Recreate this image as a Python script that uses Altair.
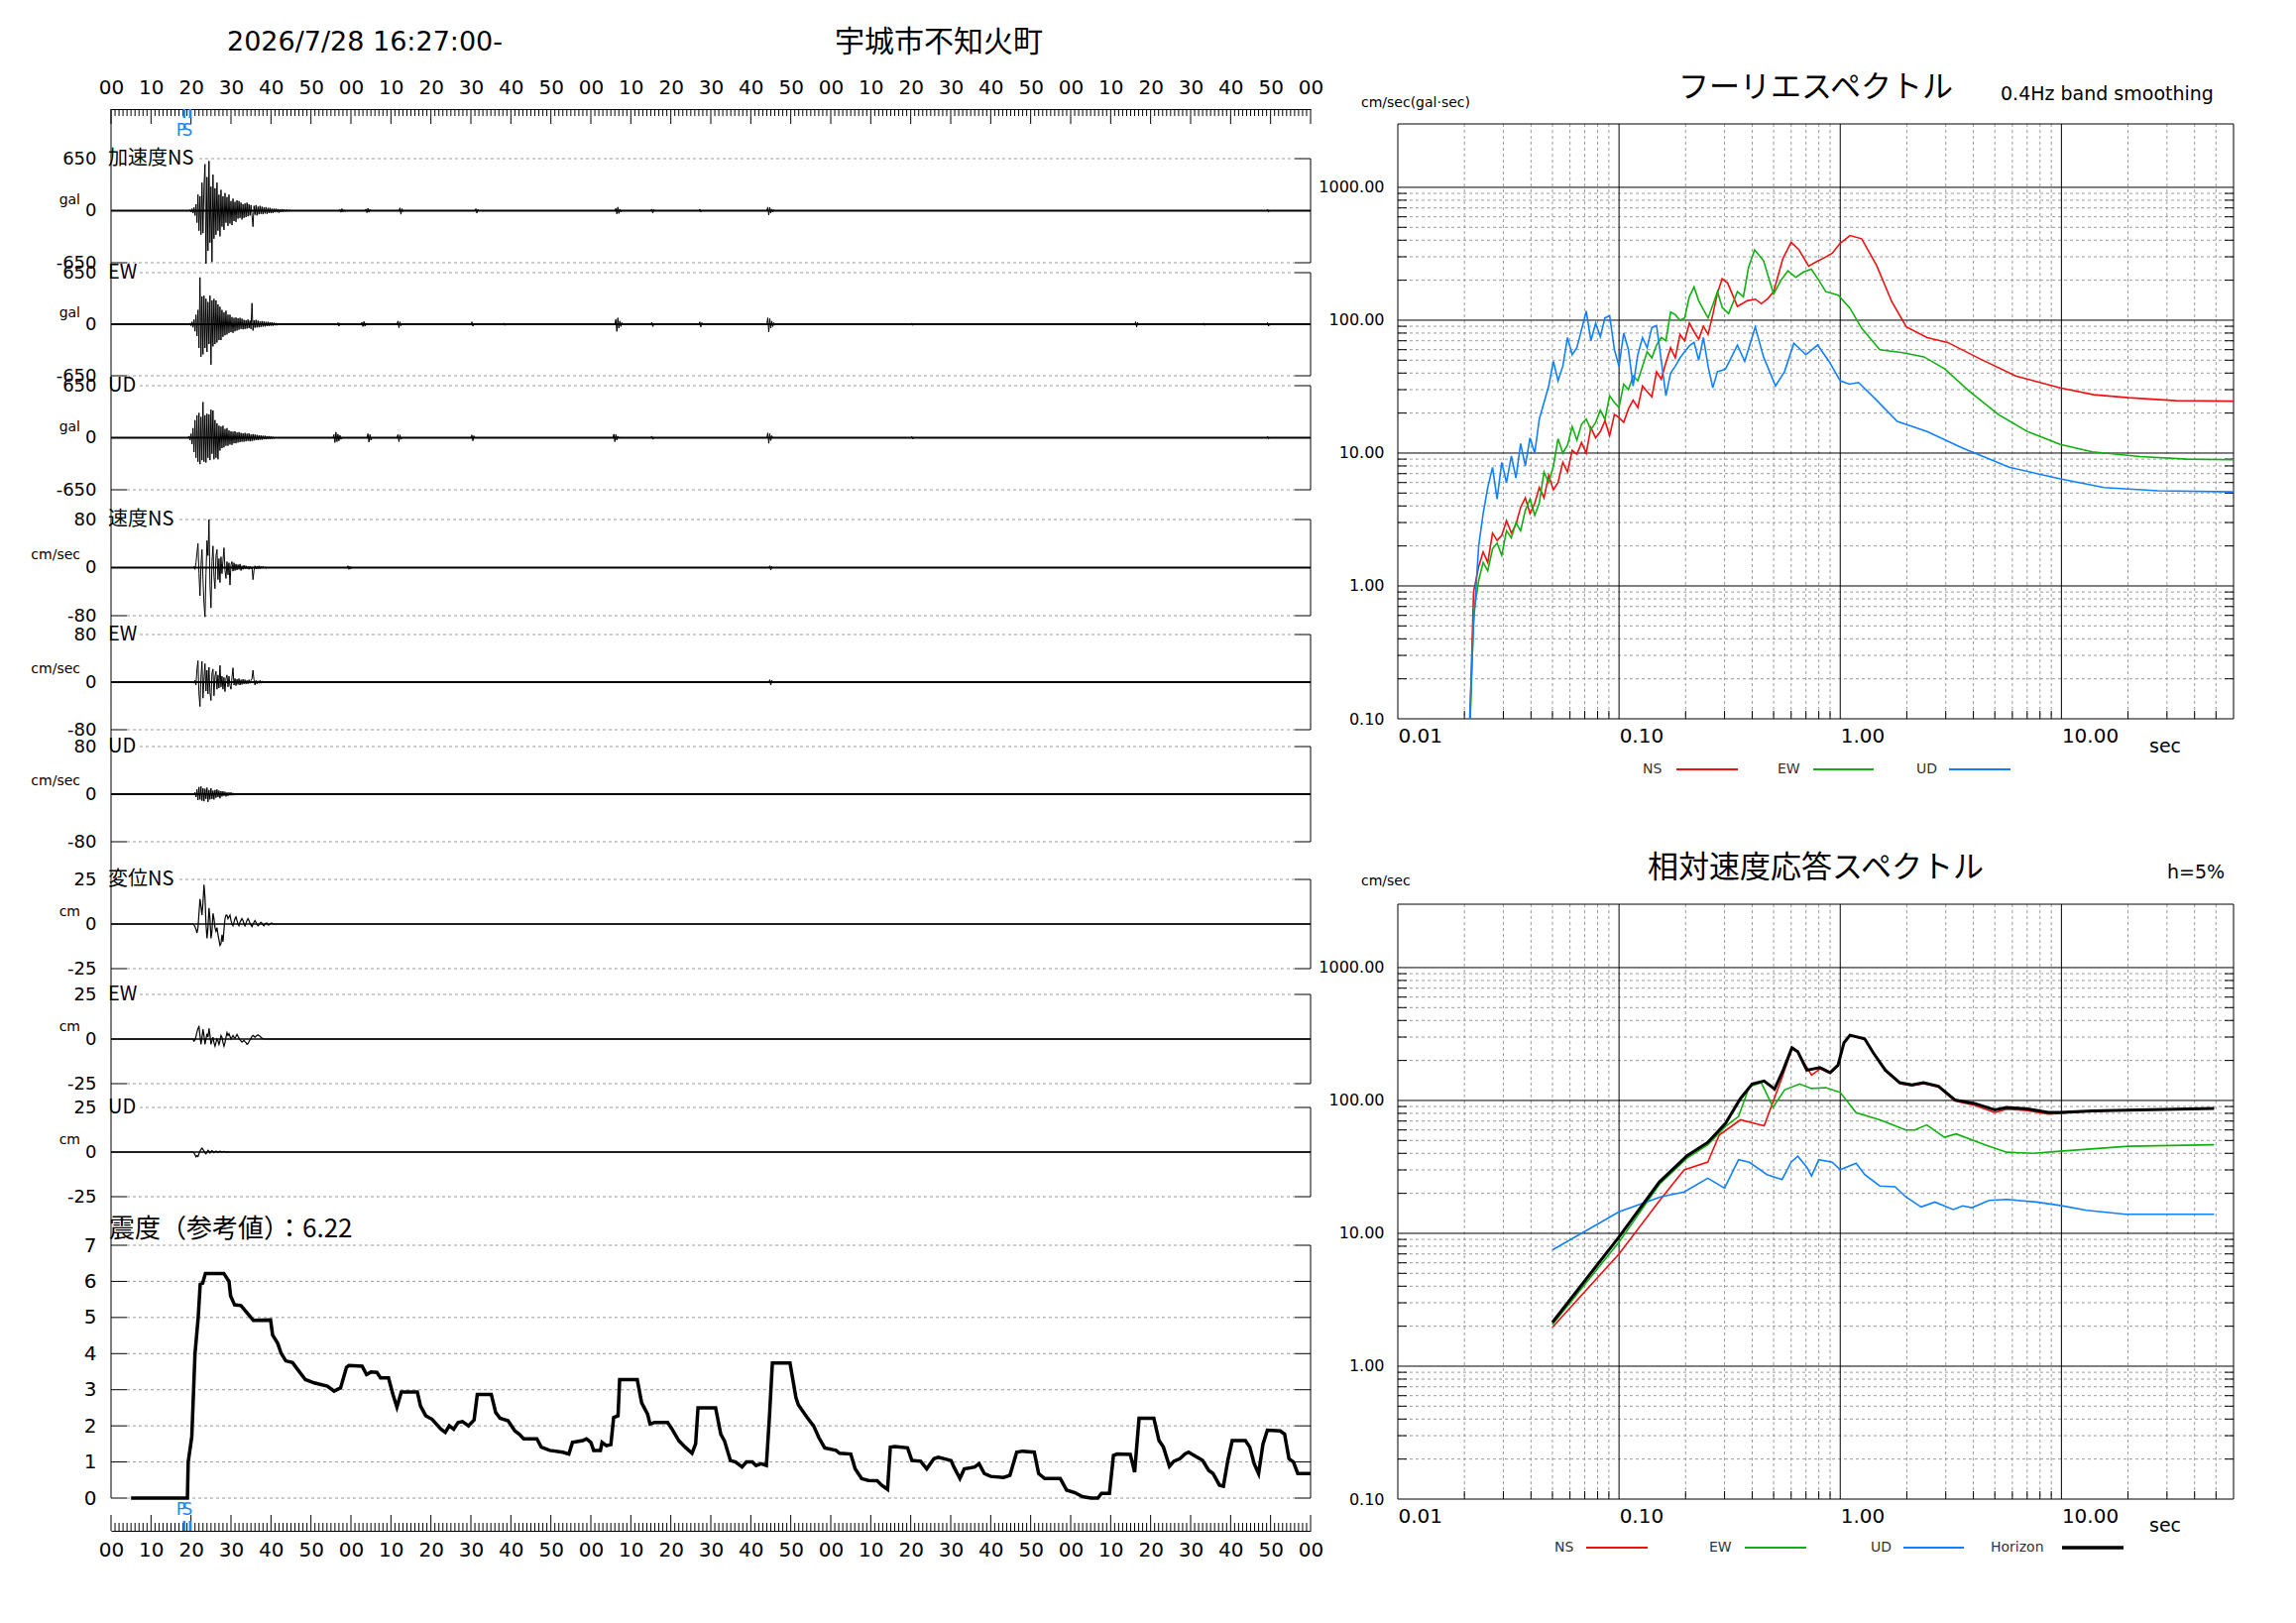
import altair as alt
import pandas as pd

FONT = "DejaVu Sans"
JFONT = "Noto Sans CJK JP"
BLUE_PS = "#1e88ff"

# ---------------- texts ----------------
DATE_TEXT = "2026/7/28 16:27:00-"
STATION = "宇城市不知火町"
FOURIER_TITLE = "フーリエスペクトル"
FOURIER_NOTE = "0.4Hz band smoothing"
FOURIER_UNIT = "cm/sec(gal·sec)"
RESP_TITLE = "相対速度応答スペクトル"
RESP_NOTE = "h=5%"
RESP_UNIT = "cm/sec"
PERIOD_UNIT = "sec"
INTENSITY_TITLE = "震度（参考値）：6.22"
PANEL_LABELS = ["加速度NS", "EW", "UD", "速度NS", "EW", "UD", "変位NS", "EW", "UD"]
PANEL_UNITS = ["gal", "gal", "gal", "cm/sec", "cm/sec", "cm/sec", "cm", "cm", "cm"]
PANEL_MAX = [650, 650, 650, 80, 80, 80, 25, 25, 25]
TIME_TICKS = list(range(0, 301, 10))
PS_TIMES = [18.3, 19.8]
PS_LABELS = ["P", "S"]
LEVELS = [0, 1, 2, 3, 4, 5, 6, 7]
FOURIER_COMPS = ["NS", "EW", "UD"]
RESP_COMPS = ["NS", "EW", "UD", "Horizon"]
STEP = 0.25

# ---------------- waveforms (bursts: start time, samples every 0.25 s) ----------------
ACC_NS = [
    (19.5, [0, 10, -15, 25, -30, 40, -60, 80,
            -150, 200, -250, 180, -300, 350, -280, 300,
            580, -660, 420, -500, 620, -400, 300, -640,
            450, -350, 280, -300, 350, -250, 200, -320,
            260, -200, 180, -240, 220, -150, 170, -190,
            200, -160, 120, -180, 150, -130, 110, -140,
            130, -100, 120, -90, 100, -110, 80, -90,
            90, -80, 100, -70, 80, -60, 70, -60,
            -200, 60, -50, 70, -60, 50, -45, 60,
            -40, 50, -45, 40, -35, 45, -40, 35,
            -30, 35, -30, 25, -30, 25, -20, 25,
            -20, 20, -25, 15, -15, 20, -15, 15,
            -10, 12, -10, 10, -8, 8, 0, 0]),
    (57.0, [0, 15, -20, 25, -15, 10, -12, 0]),
    (63.5, [0, 20, -25, 30, -20, 15, 0]),
    (72.0, [0, 35, -45, 25, -10, 0]),
    (91.0, [0, 25, -30, 15, 0]),
    (126.0, [0, 30, -40, 45, -35, 20, -15, 0]),
    (135.0, [0, 20, -30, 15, 0]),
    (147.0, [0, 20, -15, 0]),
    (164.0, [0, 45, -55, 40, -30, 20, -15, 10, 0]),
    (289.0, [0, 15, -15, 0]),
]
ACC_EW = [
    (19.5, [0, 15, -20, 30, -40, 60, -90, 120,
            -150, 180, -300, 590, -410, 350, -380, 360,
            -300, 320, -350, 280, -250, 360, -510, 300,
            -280, 320, -250, 300, -230, 250, -200, 220,
            -200, 180, -160, 150, -140, 170, -130, 120,
            -110, 120, -100, 90, -110, 80, -90, 85,
            -80, 75, -70, 80, -60, 70, -65, 55,
            -60, 50, -55, 60, -50, 45, -60, 265,
            -80, 50, -45, 55, -40, 45, -40, 35,
            -35, 40, -30, 35, -30, 30, -25, 30,
            -25, 25, -20, 25, -20, 20, -15, 15,
            -15, 12, -12, 10, -10, 8, 0, 0]),
    (56.5, [0, 20, -25, 15, 0]),
    (62.5, [0, 25, -30, 35, -25, 15, 0]),
    (71.5, [0, 40, -45, 30, -20, 0]),
    (90.0, [0, 30, -25, 0]),
    (98.0, [0, 15, -15, 0]),
    (126.0, [0, 60, -90, 80, -50, 40, -30, 20, 0]),
    (135.0, [0, 25, -30, 0]),
    (147.0, [0, 30, -35, 20, 0]),
    (164.0, [0, 80, -100, 70, -50, 40, -30, 20, -10, 0]),
    (200.0, [0, 15, -15, 0]),
    (256.0, [0, 30, -35, 20, 0]),
    (273.0, [0, 15, -15, 0]),
    (289.0, [0, 20, -25, 0]),
]
ACC_UD = [
    (19.25, [0, 20, -30, 50, -80, 120, -180, 220,
             -250, 280, -300, 310, -330, 260, -280, 445,
             -300, 280, -310, 300, -250, 290, -280, 350,
             -200, 340, -270, 220, -250, 180, -270, 150,
             -160, 140, -130, 150, -120, 110, -100, 120,
             -100, 90, -85, 80, -90, 75, -70, 80,
             -70, 65, -60, 70, -55, 60, -50, 55,
             -50, 60, -45, 50, -40, 55, -45, 40,
             -40, 45, -35, 40, -30, 35, -30, 30,
             -25, 30, -25, 25, -20, 25, -20, 20,
             -15, 20, -15, 15, -12, 10, -8, 0]),
    (55.5, [0, 40, -60, 70, -50, 45, -40, 30, -20, 0]),
    (64.0, [0, 50, -55, 40, -30, 0]),
    (71.5, [0, 40, -50, 35, -20, 0]),
    (90.0, [0, 35, -40, 25, 0]),
    (125.5, [0, 45, -50, 40, -30, 20, 0]),
    (135.0, [0, 20, -20, 0]),
    (164.0, [0, 60, -70, 50, -35, 25, 0]),
    (200.0, [0, 15, -15, 0]),
    (289.0, [0, 15, -12, 0]),
]
VEL_NS = [
    (20.5, [0, 2, -3, 8, 25, 40, -10, -47, 5, 30, -20, -60, -82, -10, 45, 20, 80, -30, -67, 10,
            36, -15, -35, 20, 30, -20, 15, -25, 18, -10, 12, 33, -5, -18, 10, -12, 8, -29, 5, 10,
            -6, 8, -5, 6, -4, 5, -3, 6, -5, 3, -3, 4, -2, 3, -2, 2, -3, 2, -2, 1,
            -20, -5, 3, -2, 2, -2, 3, -2, 2, -1, 2, -1, 1, -1, 0]),
    (59.0, [0, 3, -3, 2, -2, 0]),
    (164.5, [0, 3, -4, 2, 0]),
]
VEL_EW = [
    (20.5, [0, -2, 3, -5, 22, 36, -20, -41, 10, 35, -27, 5, 31, -15, 20, -20, 25, -18, -31, 15,
            22, -23, 10, 18, -12, 12, -10, 28, -8, 10, -12, 8, -16, 6, 12, -8, 10, -6, -12, 8,
            24, -5, 6, -6, 5, -4, 6, -5, 4, -4, 5, -3, 4, -3, 3, -3, 4, -2, 3, 6,
            20, 4, -5, 3, -3, 2, -2, 3, -2, 2, -1, 1, 0]),
    (164.5, [0, 4, -5, 3, 0]),
]
VEL_UD = [
    (20.75, [0, 3, -5, 8, -10, 12, -9, 13, -11, 10, -12, 9, -8, 11, -13, 7, -9, 10, -8, 6,
             -9, 7, -6, 8, -5, 6, -7, 5, -4, 5, -3, 4, -4, 3, -3, 3, -2, 3, -2, 2, -2, 1, -1, 0]),
]
DISP_NS = [
    (20.5, [0, -0.5, -1.5, -3, -5, -2, 6, 14, 10, 5, 12, 22, 15, 0, -8, -2, 9, 3, -8, -4,
            6, 3, -2, -4, -2, -6, -9, -12, -11, -6, -10, -3, 3, 5, 5, 3, 4, 5, 2, 0,
            -1, 1, 3, 4, 2, 0, -1, 1, 2, 3, 2, 0, -1, 0.5, 2, 3, 2, 0.5, -0.5, -1.5,
            0, 1, 2, 1, 0, -1, -0.5, 0.5, 1, 0.5, -0.5, -1, 0, 0.5, 0.5, -0.5, -0.5, 0, 0.5, 0.5, 0]),
]
DISP_EW = [
    (20.5, [0, -1.2, -0.5, 1.5, 4, 6, 7, 2, -3, 1, 5.5, 2, -3, 0, 3, 1, 6, 2, -3, -1,
            1, -2, -4, -2, 0, -1, -3, -1, 2, 1, -2, -4, -2, 1, 3.6, 2, 3, 1.5, 0, 1,
            2, 1, 0.5, 1.5, 2.6, 1.5, 0.5, -0.5, -1, -1.7, -1.2, -0.8, -1.5, -2, -3, -2.5, -1.5, -0.5, 0.5, 1.5,
            2, 1.5, 1, 1.5, 2, 2.4, 2, 1.5, 1, 0.5, 0.3, 0]),
]
DISP_UD = [
    (20.5, [0, -0.5, -1.5, -2.7, -2.0, -2.5, -1.0, 0.5, 1.5, 2.2, 1.5, 0.5, -0.5, -1.0, 0, 1.0, 0.5, -0.5, 0.3, 0.8,
            0.3, -0.3, 0.2, 0.6, 0.2, -0.2, 0.3, 0.5, 0.2, 0, 0.3, 0.4, 0.1, -0.2, 0, 0.2, 0]),
]
WAVES = [ACC_NS, ACC_EW, ACC_UD, VEL_NS, VEL_EW, VEL_UD, DISP_NS, DISP_EW, DISP_UD]

# ---------------- seismic intensity ----------------
INT_T = [5.0, 19.1, 19.3, 20.2, 21.0, 21.8, 22.3, 22.9, 23.6, 28.2,
         29.5, 29.9, 30.9, 32.5, 35.0, 35.6, 39.9, 40.4, 41.7, 42.5,
         43.7, 45.4, 46.4, 48.6, 50.8, 54.1, 55.8, 57.4, 58.9, 59.5,
         62.8, 63.9, 65.0, 66.5, 67.4, 69.4, 70.5, 71.5, 72.6, 76.6,
         77.4, 78.7, 80.3, 82.5, 83.6, 84.6, 85.7, 86.8, 87.9, 89.4,
         90.8, 91.6, 95.1, 96.2, 97.3, 99.3, 101.0, 102.1, 103.2, 106.5,
         107.6, 109.7, 113.0, 114.5, 115.4, 118.0, 118.9, 120.0, 120.7, 122.4,
         122.8, 123.9, 125.0, 125.7, 126.8, 127.2, 131.6, 132.7, 134.2, 134.8,
         135.9, 139.2, 140.3, 142.0, 143.6, 145.3, 146.2, 146.8, 151.2, 152.5,
         153.4, 154.9, 156.2, 157.8, 158.9, 160.4, 161.3, 162.6, 163.9, 164.7,
         165.4, 169.8, 171.3, 171.9, 174.1, 175.7, 177.0, 178.5, 181.3, 182.2,
         185.0, 186.1, 187.7, 189.4, 191.6, 192.7, 194.2, 194.9, 196.0, 199.2,
         200.3, 202.5, 204.0, 205.8, 206.9, 210.1, 210.8, 212.3, 213.4, 216.0,
         217.1, 218.4, 220.0, 223.2, 224.8, 226.5, 228.0, 230.9, 232.0, 233.5,
         237.4, 239.0, 241.1, 242.9, 245.1, 246.8, 247.7, 249.7, 250.7, 251.6,
         254.9, 256.0, 257.1, 260.8, 262.1, 263.2, 264.7, 265.8, 267.3, 268.6,
         269.5, 271.3, 273.0, 274.5, 275.6, 277.2, 278.2, 279.3, 280.4, 283.7,
         284.8, 285.9, 287.0, 288.1, 289.2, 292.4, 293.5, 294.6, 295.7, 296.8,
         300.0]
INT_V = [0, 0, 1.0, 1.7, 4.0, 5.0, 5.92, 5.95, 6.22, 6.22,
         6.0, 5.6, 5.35, 5.33, 5.0, 4.92, 4.93, 4.52, 4.28, 4.02,
         3.8, 3.75, 3.6, 3.28, 3.19, 3.1, 2.96, 3.05, 3.62, 3.67,
         3.65, 3.42, 3.49, 3.48, 3.33, 3.33, 2.87, 2.52, 2.94, 2.94,
         2.55, 2.28, 2.18, 1.91, 1.82, 2.0, 1.91, 2.09, 2.12, 2.0,
         2.16, 2.87, 2.87, 2.37, 2.21, 2.14, 1.86, 1.77, 1.64, 1.64,
         1.41, 1.32, 1.27, 1.22, 1.54, 1.59, 1.64, 1.54, 1.32, 1.32,
         1.54, 1.45, 1.48, 2.23, 2.28, 3.28, 3.28, 2.64, 2.32, 2.05,
         2.09, 2.09, 1.91, 1.59, 1.41, 1.24, 1.5, 2.5, 2.5, 1.77,
         1.59, 1.04, 1.0, 0.86, 1.0, 1.0, 0.9, 0.95, 0.9, 2.32,
         3.74, 3.74, 2.78, 2.58, 2.23, 2.0, 1.68, 1.39, 1.32, 1.24,
         1.22, 0.81, 0.54, 0.49, 0.48, 0.36, 0.24, 1.41, 1.43, 1.39,
         1.04, 1.02, 0.81, 1.09, 1.13, 1.04, 0.86, 0.54, 0.81, 0.86,
         0.95, 0.68, 0.6, 0.57, 0.63, 1.27, 1.3, 1.27, 0.68, 0.54,
         0.54, 0.22, 0.15, 0.04, 0.0, 0.0, 0.13, 0.13, 1.18, 1.22,
         1.21, 0.72, 2.21, 2.21, 1.59, 1.41, 0.88, 1.02, 1.09, 1.22,
         1.27, 1.15, 1.04, 0.77, 0.68, 0.36, 0.33, 1.04, 1.59, 1.59,
         1.41, 0.95, 0.68, 1.5, 1.88, 1.86, 1.77, 1.09, 1.0, 0.68,
         0.68]

# ---------------- Fourier spectrum ----------------
FT_GRID = [0.0210, 0.0220, 0.0232, 0.0243, 0.0255, 0.0268, 0.0281, 0.0295, 0.0310, 0.0326,
           0.0342, 0.0359, 0.0377, 0.0396, 0.0416, 0.0436, 0.0458, 0.0481, 0.0505, 0.0530,
           0.0557, 0.0585, 0.0614, 0.0645, 0.0677, 0.0711, 0.0746, 0.0784, 0.0823, 0.0864,
           0.0907, 0.0953, 0.1000, 0.1050, 0.1103, 0.1158, 0.1216, 0.1277, 0.1340, 0.1407,
           0.1478, 0.1552, 0.1629, 0.1711, 0.1796, 0.1886, 0.1980, 0.2079, 0.2183, 0.2292,
           0.2407, 0.2527, 0.2654, 0.2786, 0.2926]
FS_NS_GRID = [0.06, 0.9, 1.4, 1.8, 1.5, 2.5, 2.2, 2.4, 3.1, 2.5,
              2.9, 3.9, 4.6, 3.5, 4.2, 5.5, 4.6, 6.8, 5.3, 6.0,
              8.5, 7.2, 10.5, 9.8, 12.0, 10.0, 15.5, 13.0, 14.5, 17.5,
              13.5, 19.5, 18.5, 17.0, 21.5, 25.0, 22.0, 32.0, 29.0, 26.5,
              41.0, 36.0, 48.0, 62.0, 52.0, 78.0, 70.0, 95.0, 82.0, 72.0,
              90.0, 78.0, 110.0, 160.0, 205.0]
FS_EW_GRID = [0.05, 0.6, 1.1, 1.5, 1.3, 1.9, 2.1, 1.7, 2.6, 2.3,
              3.0, 2.6, 3.7, 4.5, 3.4, 4.2, 7.2, 6.0, 8.0, 12.8,
              10.0, 11.5, 15.8, 12.5, 16.5, 18.0, 15.0, 17.0, 21.0, 18.0,
              27.0, 24.0, 22.0, 33.0, 30.0, 38.0, 35.0, 45.0, 58.0, 52.0,
              65.0, 74.0, 70.0, 115.0, 110.0, 100.0, 104.0, 150.0, 178.0, 140.0,
              120.0, 104.0, 130.0, 164.0, 125.0]
FS_UD_GRID = [0.08, 0.5, 2.0, 3.5, 5.5, 7.8, 4.5, 8.5, 6.0, 9.5,
              6.5, 11.8, 8.0, 13.0, 10.0, 18.0, 24.0, 32.0, 49.0, 35.0,
              45.0, 74.0, 55.0, 62.0, 85.0, 117.0, 70.0, 95.0, 75.0, 104.0,
              108.0, 60.0, 45.0, 80.0, 60.0, 32.0, 55.0, 74.0, 62.0, 88.0,
              91.0, 50.0, 27.0, 40.0, 45.0, 52.0, 58.0, 64.0, 68.0, 50.0,
              74.0, 45.0, 31.0, 41.0, 42.0]
FS_NS_T = [0.31, 0.343, 0.38, 0.413, 0.44, 0.47, 0.50, 0.55, 0.60, 0.65,
           0.72, 0.78, 0.84, 0.92, 1.0, 1.107, 1.25, 1.46, 1.71, 1.99,
           2.47, 3.06, 4.30, 6.22, 9.88, 14.0, 20.1, 32.9, 60.0]
FS_NS_A = [190, 127, 140, 144, 133, 145, 164, 290, 386, 340,
           255, 275, 293, 319, 380, 434, 410, 259, 138, 89,
           74, 68, 51, 38, 30.9, 27.5, 26.1, 24.8, 24.6]
FS_EW_T = [0.313, 0.343, 0.365, 0.385, 0.41, 0.45, 0.50, 0.54, 0.58, 0.63,
           0.68, 0.74, 0.80, 0.86, 0.98, 1.107, 1.25, 1.51, 1.92, 2.39,
           2.97, 3.80, 5.19, 7.03, 9.88, 13.8, 22.6, 37.2, 60.0]
FS_EW_A = [112, 164, 150, 250, 338, 281, 157, 200, 235, 210,
           230, 242, 200, 164, 154, 123, 87, 60, 57, 53,
           43, 29.6, 19.5, 14.5, 11.6, 10.2, 9.4, 9.0, 8.9]
FS_UD_T = [0.303, 0.343, 0.37, 0.413, 0.45, 0.51, 0.56, 0.617, 0.70, 0.79,
           0.89, 1.0, 1.1, 1.21, 1.46, 1.81, 2.47, 3.58, 5.85, 9.88,
           15.6, 27.3, 60.0]
FS_UD_A = [43, 65, 49, 89, 53, 32, 41, 67, 55, 65,
           49, 35, 33, 34, 25, 17.3, 14.5, 10.9, 7.8, 6.4,
           5.5, 5.2, 5.1]

# ---------------- velocity response spectrum ----------------
RS_H_T = [0.05, 0.10, 0.152, 0.203, 0.252, 0.303, 0.354, 0.40, 0.453, 0.505,
          0.552, 0.605, 0.643, 0.706, 0.81, 0.90, 0.977, 1.04, 1.107, 1.29,
          1.41, 1.60, 1.86, 2.11, 2.38, 2.78, 3.30, 4.04, 5.0, 5.66,
          7.03, 8.72, 9.88, 13.8, 22.6, 49.0]
RS_H_A = [2.14, 9.4, 24.3, 38.4, 48.4, 67.3, 103.5, 133, 140, 122,
          169, 249, 233, 169, 177, 162, 184, 272, 310, 291,
          229, 169, 136, 131, 136, 128, 101, 95, 85, 88.7,
          86.4, 81.3, 81.3, 83.4, 85, 87]
RS_NS_T = [0.05, 0.10, 0.154, 0.197, 0.252, 0.284, 0.354, 0.453, 0.546, 0.605,
           0.643, 0.742, 0.81, 0.90, 0.977, 1.04, 1.107, 1.29, 1.41, 1.60,
           1.86, 2.11, 2.38, 2.78, 3.30, 4.04, 5.0, 5.66, 7.03, 8.72,
           9.88, 13.8, 22.6, 49.0]
RS_NS_A = [1.96, 7.0, 18, 30, 34.4, 55, 71.5, 64.5, 149, 245,
           230, 155, 173, 160, 182, 270, 308, 289, 227, 167,
           134, 129, 134, 126, 99, 92, 81, 86, 84, 79,
           80, 83, 85, 87]
RS_EW_T = [0.05, 0.10, 0.152, 0.203, 0.252, 0.303, 0.347, 0.388, 0.44, 0.497,
           0.56, 0.655, 0.742, 0.86, 1.0, 1.18, 1.51, 1.98, 2.17, 2.46,
           2.96, 3.34, 4.52, 5.66, 7.48, 9.88, 20.1, 49.0]
RS_EW_A = [2.06, 8.6, 23.3, 36.8, 46.4, 63.8, 75.8, 127, 136, 88.7,
           120, 133, 123, 125, 115, 81, 71.5, 60, 60, 65.5,
           52.8, 56, 46.4, 40.8, 40, 41.5, 45.2, 46.4]
RS_UD_T = [0.05, 0.10, 0.154, 0.197, 0.252, 0.30, 0.347, 0.388, 0.466, 0.546,
           0.60, 0.643, 0.706, 0.742, 0.80, 0.92, 1.0, 1.18, 1.29, 1.51,
           1.77, 1.98, 2.32, 2.68, 3.24, 3.58, 3.94, 4.71, 5.66, 7.70,
           9.88, 13.0, 19.5, 49.0]
RS_UD_A = [7.5, 14.5, 18.8, 20.5, 26, 21.9, 35.8, 34.3, 27.7, 25.4,
           34.3, 38, 31.5, 27, 35.8, 34.3, 30.1, 33.7, 27.7, 22.7,
           22.4, 18.8, 15.8, 17.2, 15.1, 16.1, 15.6, 17.7, 18, 17.2,
           16.2, 14.9, 13.9, 13.9]

LOG_X_LABELS = [0.01, 0.1, 1, 10]
LOG_Y_LABELS = [0.1, 1, 10, 100, 1000]
MAJOR_X = [0.1, 1, 10]
MAJOR_Y = [1, 10, 100, 1000]
MINOR_X = [round(m * d, 4) for d in (0.01, 0.1, 1, 10) for m in range(2, 10) if m * d < 60]
MINOR_Y = [round(m * d, 4) for d in (0.1, 1, 10, 100) for m in range(2, 10)]

# ---------------- layout / styles ----------------
W = 1210
SLOT = [115, 114, 135, 116, 113, 134, 116, 114, 139]
REGION = [105, 104, 105, 97, 96, 96, 90, 90, 90]
ZERO_W = [2.2, 2.2, 2.2, 2.0, 2.0, 2.0, 1.3, 1.3, 1.3]
LINE_W = [1, 1, 1, 1, 1, 1, 1.2, 1.2, 1.2]
UNIT_DY = [-11, -11, -11, -13, -13, -13, -12, -12, -12]
RW = 843
RH = 600
C_RED, C_GREEN, C_BLUE = "#f01010", "#10b010", "#1080ff"
GRAY = "#9a9a9a"
ANCHOR_TOP = -102      # invisible layout anchors (pixels relative to column origin)
LEFT_ANCHOR_L = -104
LEFT_ANCHOR_R = W + 14
RIGHT_ANCHOR_L = -84

ONE = pd.DataFrame({"k": [0]})
XT = alt.Scale(domain=[0, 300], nice=False, zero=False)
LABEL_EXPR = "(datum.value % 60 < 10 ? '0' : '') + (datum.value % 60)"
NUM_EXPR = "'' + datum.value"


def burst_df(bursts):
    rows = [(0.0, 0.0)]
    for t0, vals in bursts:
        for i, v in enumerate(vals):
            rows.append((round(t0 + i * STEP, 3), v))
    rows.append((300.0, 0.0))
    return pd.DataFrame(rows, columns=["t", "v"])


def label_w(s):
    return 4 + sum(20 if ord(c) > 0x2E80 else 12.5 for c in s)


def txt(text, x, y, size, font=FONT, align="left", color="black", baseline="middle"):
    return alt.Chart(ONE).mark_text(text=text, align=align, baseline=baseline, fontSize=size,
                                    font=font, color=color).encode(x=alt.value(x), y=alt.value(y))


def anchor(x):
    return alt.Chart(ONE).mark_rule(strokeOpacity=0, strokeWidth=1).encode(
        x=alt.value(x), y=alt.value(ANCHOR_TOP), y2=alt.value(ANCHOR_TOP + 1))


def wave_panel(i):
    M, S, R = PANEL_MAX[i], SLOT[i], REGION[i]
    lo = M - 2 * M * S / R
    ys = alt.Scale(domain=[lo, M], nice=False, zero=False)
    ya = alt.Axis(values=[-M, 0, M], labelExpr=NUM_EXPR, labelPadding=15, labelFontSize=18, title=None,
                  labelFlush=False, labelOverlap=False, labelBound=False,
                  ticks=False, domain=False, grid=False)

    def xd(v):
        return alt.XDatum(v, scale=XT, axis=None)

    def yd(v):
        return alt.YDatum(v, scale=ys, axis=ya)

    label = PANEL_LABELS[i]
    df = burst_df(WAVES[i])
    layers = [
        alt.Chart(ONE).mark_rule(color=GRAY, strokeDash=[3, 3]).encode(
            x=alt.value(label_w(label)), x2=alt.value(W - 16), y=yd(M)),
        alt.Chart(ONE).mark_rule(color=GRAY, strokeDash=[3, 3]).encode(
            x=alt.value(16), x2=alt.value(W - 16), y=yd(-M)),
        alt.Chart(ONE).mark_rule(color="black").encode(x=alt.value(W - 16), x2=alt.value(W), y=yd(M)),
        alt.Chart(ONE).mark_rule(color="black").encode(x=alt.value(W - 16), x2=alt.value(W), y=yd(-M)),
        alt.Chart(ONE).mark_rule(color="black").encode(x=alt.value(0), x2=alt.value(16), y=yd(-M)),
        alt.Chart(ONE).mark_rule(color="black").encode(x=xd(0)),
        alt.Chart(ONE).mark_rule(color="black").encode(x=xd(300), y=yd(M), y2=alt.Y2Datum(-M)),
        alt.Chart(ONE).mark_rule(color="black", strokeWidth=ZERO_W[i]).encode(y=yd(0)),
        alt.Chart(df).mark_line(color="black", strokeWidth=LINE_W[i]).encode(
            x=alt.X("t:Q", scale=XT, axis=None), y=alt.Y("v:Q", scale=ys, axis=ya)),
        alt.Chart(ONE).mark_text(text=label, align="left", baseline="middle", dx=-3, fontSize=20,
                                 font=JFONT, color="black").encode(x=xd(0), y=yd(M)),
        alt.Chart(ONE).mark_text(text=PANEL_UNITS[i], align="right", baseline="middle", dx=-31,
                                 dy=UNIT_DY[i], fontSize=14, font=FONT, color="black").encode(x=xd(0), y=yd(0)),
    ]
    return alt.layer(*layers).properties(width=W, height=S)


def time_axis(orient, pad):
    return alt.Axis(orient=orient, values=TIME_TICKS, labelExpr=LABEL_EXPR, labelFontSize=20,
                    labelPadding=pad, domain=True, domainColor="black", domainWidth=1, ticks=False,
                    grid=False, title=None, labelFlush=False, labelOverlap=False, labelBound=False,
                    labelColor="black")


minor_t = pd.DataFrame({"t": [t for t in range(301) if t % 10]})
major_t = pd.DataFrame({"t": TIME_TICKS})
ps_df = pd.DataFrame({"t": PS_TIMES, "s": PS_LABELS})

TA = time_axis("top", 12)
tx = alt.X("t:Q", scale=XT, axis=TA)
top_axis = alt.layer(
    anchor(LEFT_ANCHOR_L),
    anchor(LEFT_ANCHOR_R),
    alt.Chart(minor_t).mark_rule(color="black").encode(x=tx, y=alt.value(0), y2=alt.value(7)),
    alt.Chart(major_t).mark_rule(color="black").encode(x=tx, y=alt.value(0), y2=alt.value(15)),
    alt.Chart(ONE).mark_rule(color="black").encode(x=alt.XDatum(0, scale=XT, axis=TA)),
    alt.Chart(ps_df).mark_rule(color=BLUE_PS, strokeWidth=2.5).encode(x=tx, y=alt.value(0), y2=alt.value(9)),
    alt.Chart(ps_df).mark_text(color=BLUE_PS, fontSize=17, font=FONT, baseline="middle", dx=-3).encode(
        x=tx, y=alt.value(22), text="s:N"),
    txt(DATE_TEXT, 256, -67, 27, align="center"),
    txt(STATION, 835, -67, 30, font=JFONT, align="center"),
).properties(width=W, height=50)

BA = time_axis("bottom", 9)
bx = alt.X("t:Q", scale=XT, axis=BA)
bottom_axis = alt.layer(
    alt.Chart(minor_t).mark_rule(color="black").encode(x=bx, y=alt.value(25), y2=alt.value(33)),
    alt.Chart(major_t).mark_rule(color="black").encode(x=bx, y=alt.value(17), y2=alt.value(33)),
    alt.Chart(ps_df).mark_rule(color=BLUE_PS, strokeWidth=2.5).encode(x=bx, y=alt.value(23), y2=alt.value(33)),
    alt.Chart(ps_df).mark_text(color=BLUE_PS, fontSize=17, font=FONT, baseline="middle", dx=-3).encode(
        x=bx, y=alt.value(12), text="s:N"),
).properties(width=W, height=33)

# intensity panel
IS = alt.Scale(domain=[0, 7], nice=False, zero=False)
IA = alt.Axis(values=LEVELS, labelPadding=15, labelFontSize=20, title=None, labelFlush=False,
              labelOverlap=False, labelBound=False, ticks=False, domain=False, grid=False)
lev_df = pd.DataFrame({"y": LEVELS})
int_df = pd.DataFrame({"t": INT_T, "v": INT_V})
iy = alt.Y("y:Q", scale=IS, axis=IA)
intensity = alt.layer(
    alt.Chart(lev_df).mark_rule(color=GRAY, strokeDash=[3, 3]).encode(y=iy, x=alt.value(16), x2=alt.value(W - 16)),
    alt.Chart(lev_df).mark_rule(color="black").encode(y=iy, x=alt.value(0), x2=alt.value(16)),
    alt.Chart(lev_df).mark_rule(color="black").encode(y=iy, x=alt.value(W - 16), x2=alt.value(W)),
    alt.Chart(ONE).mark_rule(color="black").encode(x=alt.XDatum(0, scale=XT, axis=None)),
    alt.Chart(ONE).mark_rule(color="black").encode(x=alt.XDatum(300, scale=XT, axis=None)),
    alt.Chart(int_df).mark_line(color="black", strokeWidth=3.5).encode(
        x=alt.X("t:Q", scale=XT, axis=None), y=alt.Y("v:Q", scale=IS, axis=IA)),
    alt.Chart(ONE).mark_text(text=INTENSITY_TITLE, align="left", baseline="middle", dx=-2, dy=-16,
                             fontSize=26, font=JFONT, color="black").encode(
        x=alt.XDatum(0, scale=XT, axis=None), y=alt.YDatum(7, scale=IS, axis=IA)),
).properties(width=W, height=255)

left_col = alt.vconcat(top_axis, *[wave_panel(i) for i in range(9)], intensity, bottom_axis,
                       spacing=0, bounds="flush")

# ---------------- log-log panels ----------------
LX = alt.Scale(type="log", domain=[0.01, 60], nice=False)
LY = alt.Scale(type="log", domain=[0.1, 3000], nice=False)
LXA = alt.Axis(values=LOG_X_LABELS, format=".2f", labelAlign="left", labelPadding=7, labelFontSize=20,
               ticks=False, domain=False, grid=False, title=None, labelFlush=False, labelOverlap=False,
               labelBound=False, labelColor="black")
LYA = alt.Axis(values=LOG_Y_LABELS, format=".2f", labelPadding=14, labelFontSize=16, ticks=False,
               domain=False, grid=False, title=None, labelFlush=False, labelOverlap=False,
               labelBound=False, labelColor="black")


def log_panel(series, title, note, note_x, note_y, unit, unit_y, sec_y, legend, leg_y):
    lxf = alt.X("v:Q", scale=LX, axis=LXA)
    lyf = alt.Y("v:Q", scale=LY, axis=LYA)
    mx = pd.DataFrame({"v": MINOR_X})
    my = pd.DataFrame({"v": MINOR_Y})
    layers = [
        alt.Chart(mx).mark_rule(color=GRAY, strokeDash=[3, 3]).encode(x=lxf),
        alt.Chart(my).mark_rule(color=GRAY, strokeDash=[3, 3]).encode(y=lyf),
        alt.Chart(pd.DataFrame({"v": MAJOR_X})).mark_rule(color="black").encode(x=lxf),
        alt.Chart(pd.DataFrame({"v": MAJOR_Y})).mark_rule(color="black").encode(y=lyf),
        alt.Chart(ONE).mark_rule(color="black").encode(x=alt.XDatum(0.01, scale=LX, axis=LXA)),
        alt.Chart(ONE).mark_rule(color="black").encode(x=alt.XDatum(60, scale=LX, axis=LXA)),
        alt.Chart(ONE).mark_rule(color="black").encode(y=alt.YDatum(0.1, scale=LY, axis=LYA)),
        alt.Chart(ONE).mark_rule(color="black").encode(y=alt.YDatum(3000, scale=LY, axis=LYA)),
        alt.Chart(my).mark_rule(color="black").encode(y=lyf, x=alt.value(0), x2=alt.value(9)),
        alt.Chart(my).mark_rule(color="black").encode(y=lyf, x=alt.value(RW - 9), x2=alt.value(RW)),
        alt.Chart(mx).mark_rule(color="black").encode(x=lxf, y=alt.value(RH - 8), y2=alt.value(RH)),
    ]
    for T, A, color, width in series:
        df = pd.DataFrame({"T": T, "A": A})
        layers.append(alt.Chart(df).mark_line(color=color, strokeWidth=width, clip=True).encode(
            x=alt.X("T:Q", scale=LX, axis=LXA), y=alt.Y("A:Q", scale=LY, axis=LYA)))
    layers += [
        txt(title, RW / 2, -36, 31, font=JFONT, align="center"),
        txt(note, note_x, note_y, 19),
        txt(unit, -37, unit_y, 14),
        txt(PERIOD_UNIT, 758, sec_y, 19),
    ]
    for name, color, width, tx_, l0, l1 in legend:
        layers.append(txt(name, tx_, leg_y, 14, color="#333"))
        layers.append(alt.Chart(ONE).mark_rule(color=color, strokeWidth=width).encode(
            x=alt.value(l0), x2=alt.value(l1), y=alt.value(leg_y)))
    return alt.layer(*layers).properties(width=RW, height=RH)


fourier = log_panel(
    [(FT_GRID + FS_NS_T, FS_NS_GRID + FS_NS_A, C_RED, 1.6),
     (FT_GRID + FS_EW_T, FS_EW_GRID + FS_EW_A, C_GREEN, 1.6),
     (FT_GRID + FS_UD_T, FS_UD_GRID + FS_UD_A, C_BLUE, 1.6)],
    FOURIER_TITLE, FOURIER_NOTE, 608, -30, FOURIER_UNIT, -21, 628,
    [(FOURIER_COMPS[0], C_RED, 2, 247, 281, 343),
     (FOURIER_COMPS[1], C_GREEN, 2, 383, 419, 480),
     (FOURIER_COMPS[2], C_BLUE, 2, 523, 556, 618)],
    651)

response = log_panel(
    [(RS_NS_T, RS_NS_A, C_RED, 1.6),
     (RS_EW_T, RS_EW_A, C_GREEN, 1.6),
     (RS_UD_T, RS_UD_A, C_BLUE, 1.6),
     (RS_H_T, RS_H_A, "black", 3)],
    RESP_TITLE, RESP_NOTE, 776, -32, RESP_UNIT, -23, 627,
    [(RESP_COMPS[0], C_RED, 2, 158, 190, 252),
     (RESP_COMPS[1], C_GREEN, 2, 314, 350, 412),
     (RESP_COMPS[2], C_BLUE, 2, 477, 510, 571),
     (RESP_COMPS[3], "black", 3.5, 598, 670, 732)],
    649)


def spacer(h, with_anchor=False):
    base = alt.Chart(ONE).mark_point(opacity=0).encode(
        x=alt.X("k:Q", axis=None), y=alt.Y("k:Q", axis=None))
    if with_anchor:
        return alt.layer(base, anchor(RIGHT_ANCHOR_L)).properties(width=RW, height=h)
    return base.properties(width=RW, height=h)


right_col = alt.vconcat(spacer(15, True), fourier, spacer(187), response, spacing=0, bounds="flush")

GAP = 88 - (LEFT_ANCHOR_R - W) - (-RIGHT_ANCHOR_L)

chart = alt.hconcat(left_col, right_col, spacing=GAP, bounds="full").properties(
    padding={"left": 0, "top": 0, "right": 10, "bottom": 10}
).configure_view(stroke=None).configure_axis(labelFont=FONT, labelColor="black")

chart.save("out.html", embed_options={"renderer": "svg", "actions": False})
